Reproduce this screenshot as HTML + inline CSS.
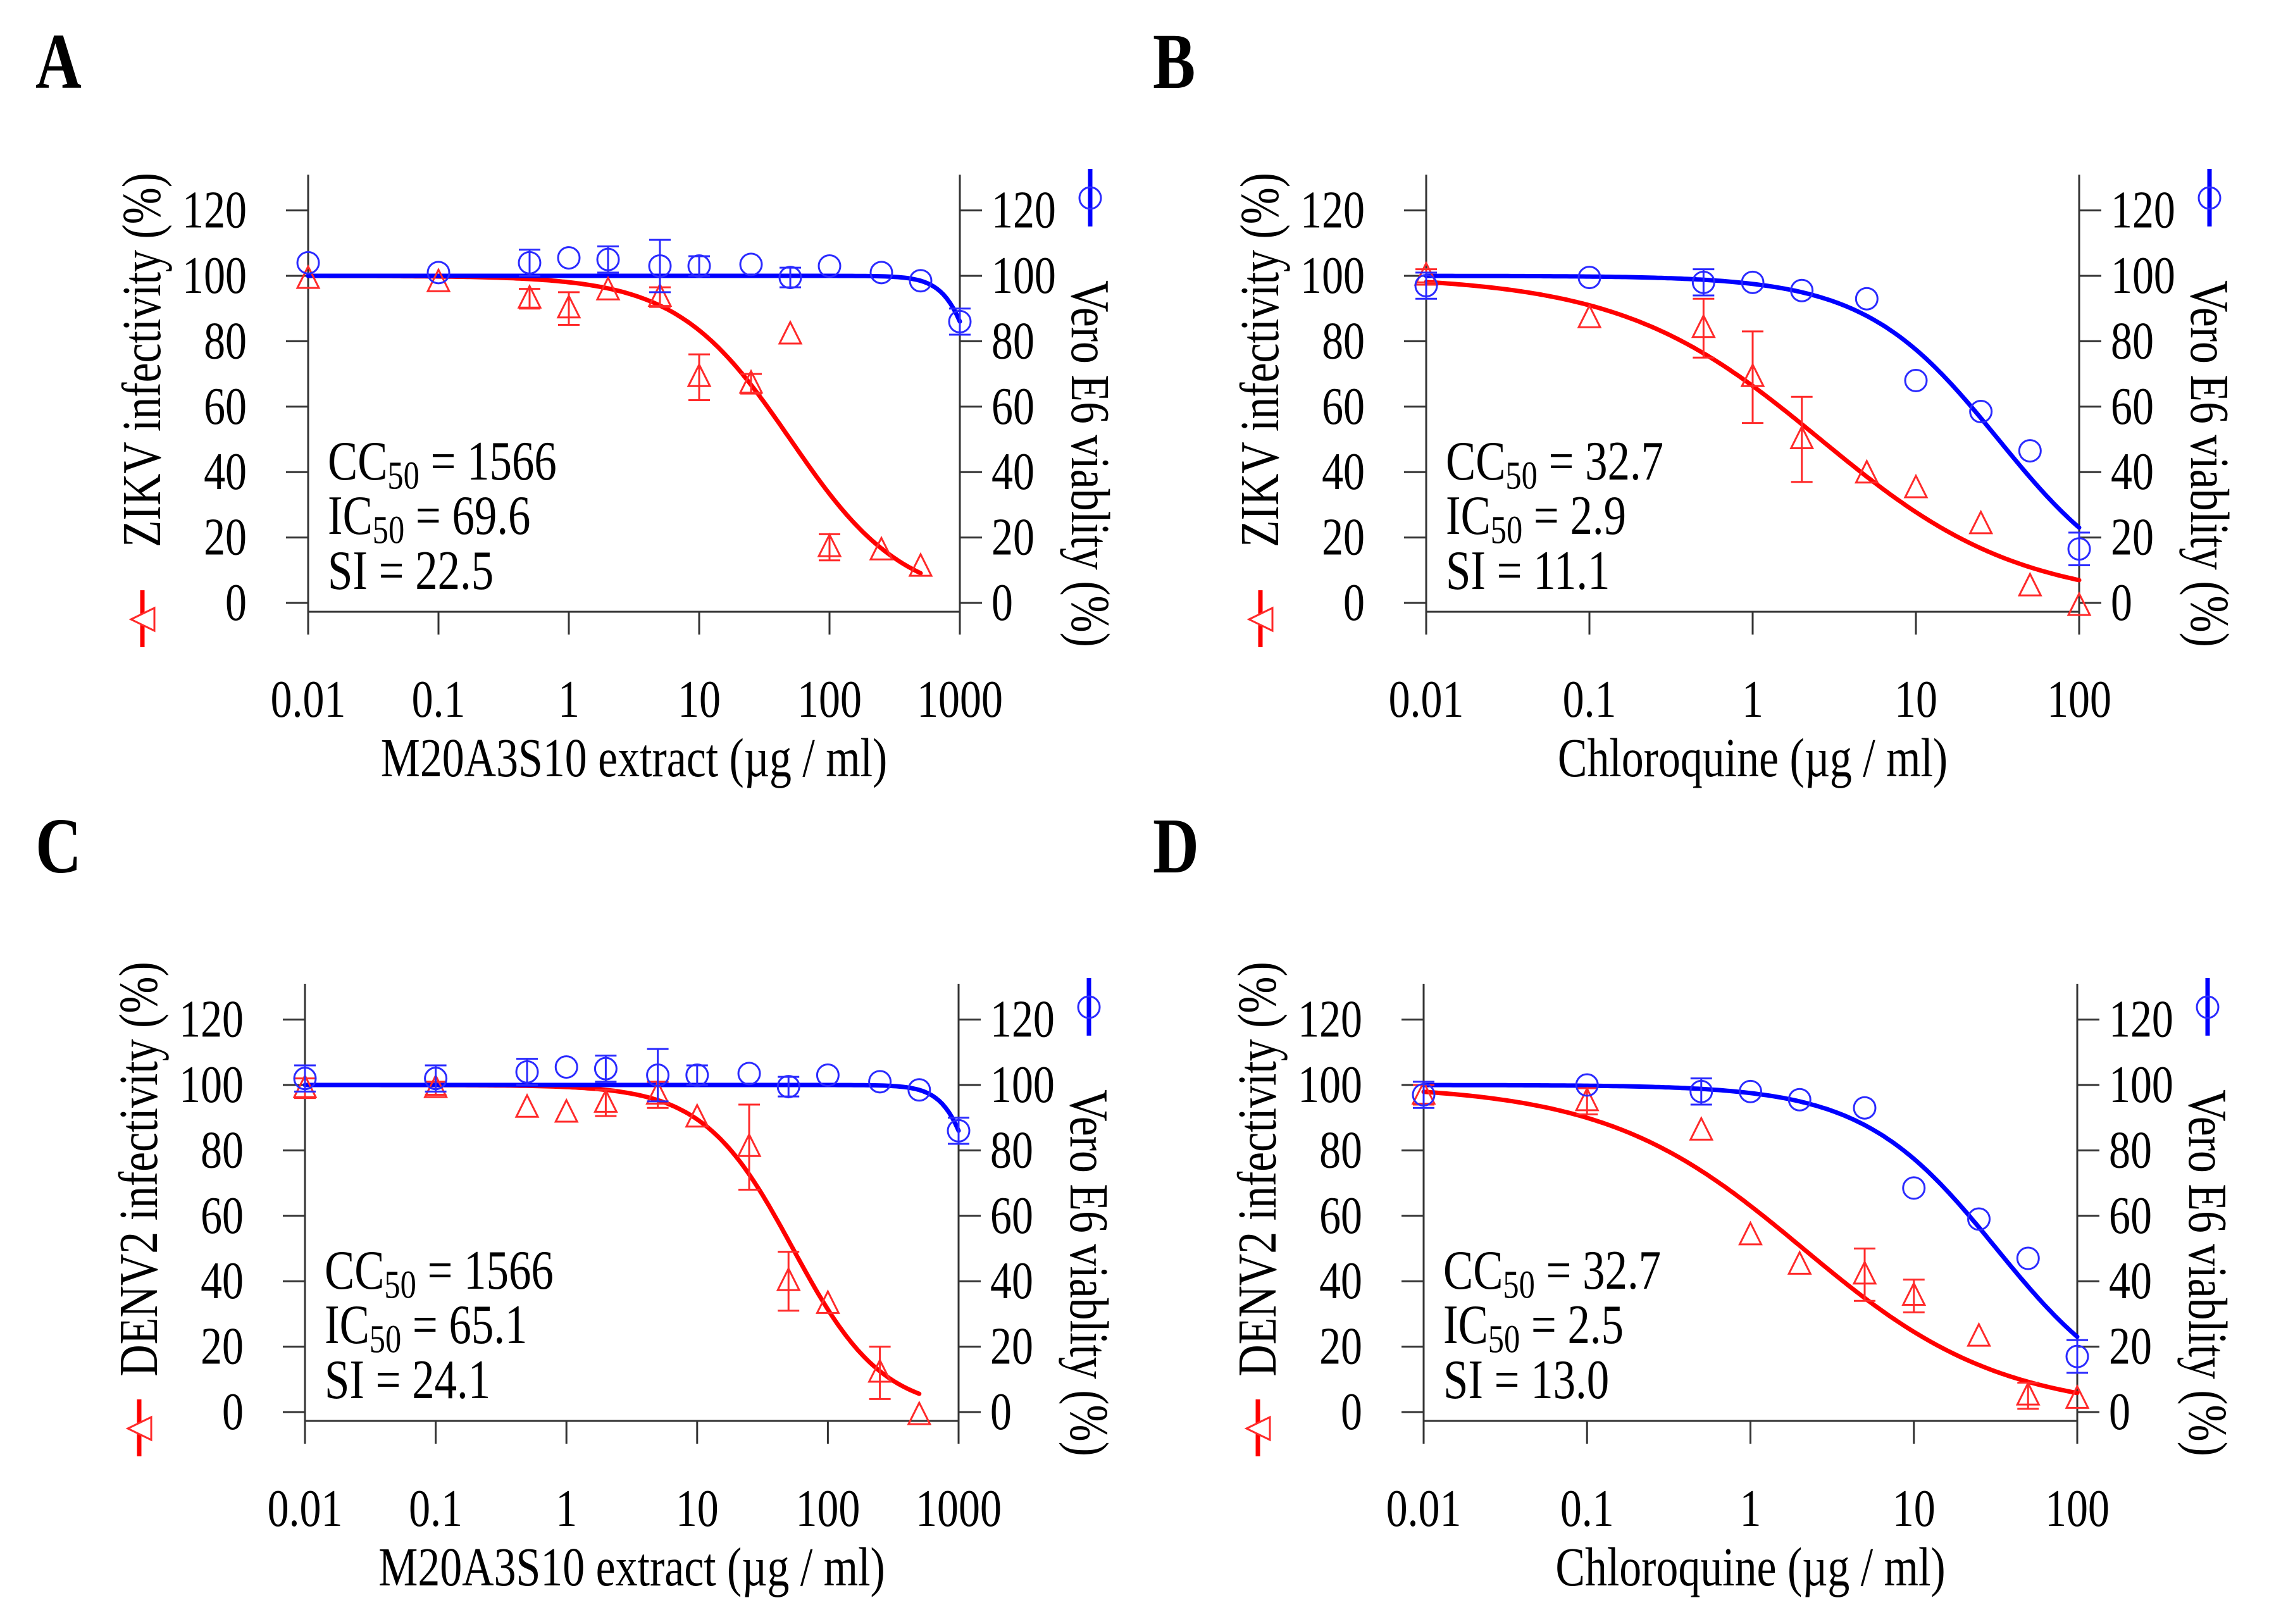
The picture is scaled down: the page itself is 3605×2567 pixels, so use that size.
<!DOCTYPE html>
<html><head><meta charset="utf-8"><style>
html,body{margin:0;padding:0;background:#fff;}
svg{display:block;font-family:"Liberation Serif",serif;}
</style></head><body>
<svg id="fig" width="3605" height="2567" viewBox="0 0 3605 2567" xmlns="http://www.w3.org/2000/svg">
<rect width="3605" height="2567" fill="#fff"/>
</svg>
<script>
// ---- Panel A data (M20A3S10, ZIKV)
const aConc = [0.01,0.1,0.5,1,2,5,10,25,50,100,250,500,1000];
const aBlue = [104,101,104,105.5,105,103,103,103.5,99.5,103,101,98.5,86];
const aBlueErr = [0,0,4,0,4,8,3,0,3,0,0,0,4];
const aRedConc = [0.01,0.1,0.5,1,2,5,10,25,50,100,250,500];
const aRed = [99,98,93,90,95.5,93.5,69,67,82,17,16,11];
const aRedErr = [0,0,3,5,0,3,7,3,0,4,0,0];
const aRedFit = [100,0,50,1.0];
const aBlueFit = [100,0,1706,3.4];
// ---- Panel B data (Chloroquine, ZIKV)
const bConc = [0.01,0.1,0.5,1,2,5,10,25,50,100];
const bBlue = [97,99.5,98,98,95.5,93,68,58.5,46.5,16.5];
const bBlueErr = [4,0,4,0,0,0,0,0,0,5];
const bRed = [100,87,84,69,50,39.5,35,24,5,-1];
const bRedErr = [2,0,9,14,13,0,0,0,0,0];
const bRedFit = [100,0,2.6,0.71];
const bBlueFit = [100,0,32,1.06];
// ---- Panel C data (M20A3S10, DENV2)
const cConc = [0.01,0.1,0.5,1,2,5,10,25,50,100,250,500,1000];
const cBlue = [102,102,104,105.5,105,103,103,103.5,99.5,103,101,98.5,86];
const cBlueErr = [4,4,4,0,4,8,3,0,3,0,0,0,4];
const cRedConc = [0.01,0.1,0.5,1,2,5,10,25,50,100,250,500];
const cRed = [99,99,93,91.5,94.5,97,90,81,40,33,12,-1];
const cRedErr = [3,2,0,0,4,4,0,13,9,0,8,0];
const cRedFit = [100,0,54,1.27];
const cBlueFit = [100,0,1706,3.4];
// ---- Panel D data (Chloroquine, DENV2)
const dConc = [0.01,0.1,0.5,1,2,5,10,25,50,100];
const dBlue = [97,100,98,98,95.5,93,68.5,59,47,17];
const dBlueErr = [4,0,4,0,0,0,0,0,0,5];
const dRed = [97,95,86,54,45,42,35.5,23,5,4];
const dRedErr = [3,4,0,0,0,8,5,0,4,0];
const dRedFit = [100,0,2.1,0.72];
const dBlueFit = [100,0,32,1.06];
// ---- Tick labels
const yTicks = [0,20,40,60,80,100,120];
const xTicksExtract = ["0.01","0.1","1","10","100","1000"];
const xTicksChloro = ["0.01","0.1","1","10","100"];

const NS = "http://www.w3.org/2000/svg";
const svg = document.getElementById('fig');
const RED = "#ff0000", BLUE = "#0000ff", RMK = "#ff2a2a", BMK = "#2a2aff", AX = "#333";
const SY = 1.2;

function mk(tag, attrs, parent){
  const e = document.createElementNS(NS, tag);
  for (const k in attrs) e.setAttribute(k, attrs[k]);
  (parent||svg).appendChild(e);
  return e;
}
function txt(x, y, size, anchor, parent, extra){
  const a = {x:0, y:0, 'font-size':size, 'text-anchor':anchor||'start', transform:`translate(${x},${y}) scale(0.97,${SY})`};
  if (extra) for (const k in extra) a[k] = extra[k];
  return mk('text', a, parent);
}
function hill(p, x){ return p[1] + (p[0]-p[1])/(1+Math.pow(x/p[2], p[3])); }

function panel(o){
  const g = mk('g', {});
  
  
  const unit = 5.17;
  const xs = v => o.L + (Math.log10(v) - o.xmin) / (o.xmax - o.xmin) * (o.R - o.L);
  const ys = v => o.y0 - v * unit;
  const lt = txt(o.lx, o.ly, 104, 'start', g, {'font-weight':'bold'});
  lt.textContent = o.id;
  
  
  const top = o.y0 - 677, xl = o.y0 + 14, tb = o.y0 + 50;
  const la = mk('line', {x1:o.L, y1:top, x2:o.L, y2:tb, stroke:AX, 'stroke-width':3}, g);
  
  
  const ra = mk('line', {x1:o.R, y1:top, x2:o.R, y2:tb, stroke:AX, 'stroke-width':3}, g);
  
  
  const xa = mk('line', {x1:o.L, y1:xl, x2:o.R, y2:xl, stroke:AX, 'stroke-width':3}, g);
  
  
  yTicks.forEach(v => {
    const y = ys(v);
    mk('line', {x1:o.L-35, y1:y, x2:o.L, y2:y, stroke:AX, 'stroke-width':3}, g);
    mk('line', {x1:o.R, y1:y, x2:o.R+35, y2:y, stroke:AX, 'stroke-width':3}, g);
    const t1 = txt(o.L-97, y+27, 70, 'end', g);
    t1.textContent = v;
    
    
    const t2 = txt(o.R+50, y+27, 70, 'start', g);
    t2.textContent = v;
    
    
  });
  o.xt.forEach(s => {
    const x = xs(parseFloat(s));
    mk('line', {x1:x, y1:xl, x2:x, y2:tb, stroke:AX, 'stroke-width':3}, g);
    const t = txt(x, o.y0+180, 70, 'middle', g);
    t.textContent = s;
    
    
  });
  const xt = txt((o.L+o.R)/2, o.y0+274, 72, 'middle', g);
  xt.textContent = o.xtitle;
  
  
  const lx = o.L-262, lyc = o.y0-384;
  const ltit = mk('text', {x:0, y:0, 'font-size':72, 'text-anchor':'middle', transform:`translate(${lx+28},${lyc}) rotate(-90) scale(0.97,${SY})`}, g);
  ltit.textContent = o.ltitle;
  
  
  const rx = o.R+205, ryc = o.y0-220;
  const rtit = mk('text', {x:0, y:0, 'font-size':72, 'text-anchor':'middle', 'xml:space':'preserve', transform:`translate(${rx-28},${ryc}) rotate(90) scale(0.97,${SY})`}, g);
  rtit.textContent = "Vero  E6 viablity (%)";
  
  
  const rl = mk('g', {}, g);
  
  
  mk('line', {x1:lx, y1:o.y0-20, x2:lx, y2:o.y0+70, stroke:RED, 'stroke-width':7}, rl);
  mk('polygon', {points:`${lx-18},${o.y0+26} ${lx+19},${o.y0+8} ${lx+19},${o.y0+44}`, fill:'#fff', stroke:RMK, 'stroke-width':3}, rl);
  const bl = mk('g', {}, g);
  
  
  mk('line', {x1:o.R+206, y1:o.y0-686, x2:o.R+206, y2:o.y0-595, stroke:BLUE, 'stroke-width':7}, bl);
  mk('circle', {cx:o.R+206, cy:o.y0-640, r:17, fill:'none', stroke:BMK, 'stroke-width':3}, bl);
  const ax = o.L + 31;
  [["CC", o.ann[0], -195], ["IC", o.ann[1], -109]].forEach(a => {
    const t = txt(ax, o.y0+a[2], 73, 'start', g);
    
    
    const s1 = mk('tspan', {}, t); s1.textContent = a[0];
    const s2 = mk('tspan', {'font-size':52, dy:12}, t); s2.textContent = "50";
    const s3 = mk('tspan', {dy:-12}, t); s3.textContent = " = " + a[1];
  });
  const si = txt(ax, o.y0-22, 73, 'start', g);
  si.textContent = "SI = " + o.ann[2];
  
  
  function curve(p, xmaxv, col, name){
    let d = "";
    const lo = o.xmin, hi = Math.log10(xmaxv);
    for (let i = 0; i <= 200; i++){
      const lv = lo + (hi-lo)*i/200, v = Math.pow(10, lv);
      d += (i ? "L" : "M") + xs(v).toFixed(1) + "," + ys(hill(p, v)).toFixed(1);
    }
    const c = mk('path', {d:d, fill:'none', stroke:col, 'stroke-width':7, 'stroke-linecap':'round'}, g);
    
    
  }
  curve(o.redFit, o.redConc[o.redConc.length-1], RED, 'red-fit-curve');
  curve(o.blueFit, o.blueConc[o.blueConc.length-1], BLUE, 'blue-fit-curve');
  function errbar(x, v, e, col){
    if (!e) return;
    const y1 = ys(v+e), y2 = ys(v-e);
    mk('line', {x1:x, y1:y1, x2:x, y2:y2, stroke:col, 'stroke-width':3}, g);
    mk('line', {x1:x-17, y1:y1, x2:x+17, y2:y1, stroke:col, 'stroke-width':3}, g);
    mk('line', {x1:x-17, y1:y2, x2:x+17, y2:y2, stroke:col, 'stroke-width':3}, g);
  }
  o.redConc.forEach((c, i) => {
    const x = xs(c), y = ys(o.red[i]);
    errbar(x, o.red[i], o.redErr[i], RMK);
    const m = mk('polygon', {points:`${x},${y-20} ${x-17},${y+14} ${x+17},${y+14}`, fill:'none', stroke:RMK, 'stroke-width':3}, g);
    
    
  });
  o.blueConc.forEach((c, i) => {
    const x = xs(c), y = ys(o.blue[i]);
    errbar(x, o.blue[i], o.blueErr[i], BMK);
    const m = mk('circle', {cx:x, cy:y, r:17, fill:'none', stroke:BMK, 'stroke-width':3}, g);
    
    
  });
}

panel({id:'A', L:487, R:1517, y0:953, xmin:-2, xmax:3, lx:56, ly:139, xt:xTicksExtract,
  xtitle:"M20A3S10 extract (\u00b5g / ml)", ltitle:"ZIKV infectivity (%)", ann:["1566","69.6","22.5"],
  blueConc:aConc, blue:aBlue, blueErr:aBlueErr, redConc:aRedConc, red:aRed, redErr:aRedErr, redFit:aRedFit, blueFit:aBlueFit});
panel({id:'B', L:2254, R:3286, y0:953, xmin:-2, xmax:2, lx:1822, ly:139, xt:xTicksChloro,
  xtitle:"Chloroquine (\u00b5g / ml)", ltitle:"ZIKV infectivity (%)", ann:["32.7","2.9","11.1"],
  blueConc:bConc, blue:bBlue, blueErr:bBlueErr, redConc:bConc, red:bRed, redErr:bRedErr, redFit:bRedFit, blueFit:bBlueFit});
panel({id:'C', L:482, R:1515, y0:2232, xmin:-2, xmax:3, lx:56, ly:1379, xt:xTicksExtract,
  xtitle:"M20A3S10 extract (\u00b5g / ml)", ltitle:"DENV2 infectivity (%)", ann:["1566","65.1","24.1"],
  blueConc:cConc, blue:cBlue, blueErr:cBlueErr, redConc:cRedConc, red:cRed, redErr:cRedErr, redFit:cRedFit, blueFit:cBlueFit});
panel({id:'D', L:2250, R:3283, y0:2232, xmin:-2, xmax:2, lx:1822, ly:1379, xt:xTicksChloro,
  xtitle:"Chloroquine (\u00b5g / ml)", ltitle:"DENV2 infectivity (%)", ann:["32.7","2.5","13.0"],
  blueConc:dConc, blue:dBlue, blueErr:dBlueErr, redConc:dConc, red:dRed, redErr:dRedErr, redFit:dRedFit, blueFit:dBlueFit});
</script>
</body></html>
